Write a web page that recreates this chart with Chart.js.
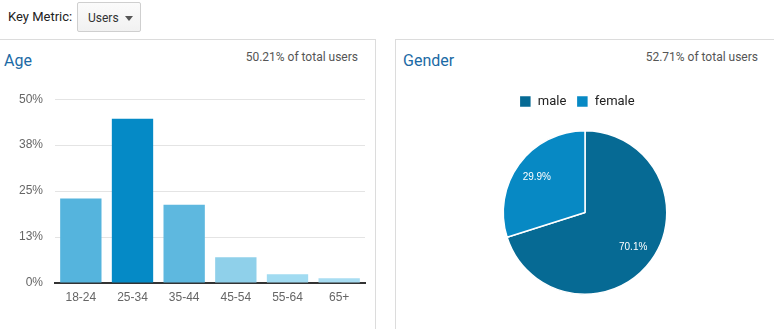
<!DOCTYPE html>
<html>
<head>
<meta charset="utf-8">
<script src="https://cdn.jsdelivr.net/npm/chart.js@4/dist/chart.umd.min.js"></script>
<style>
  html, body { margin: 0; padding: 0; background: #fff; }
  body { width: 774px; height: 329px; position: relative; overflow: hidden; font-family: Roboto, Arial, sans-serif; }
  .metric { position: absolute; left: 8px; top: 9px; font-size: 13px; color: #222; }
  .select { position: absolute; left: 77px; top: 2px; width: 64px; height: 30px; box-sizing: border-box;
    border: 1px solid #cfcfcf; border-radius: 2px; background: linear-gradient(#fbfbfb, #f1f1f1);
    font-size: 12px; color: #333; }
  .select span { position: absolute; left: 10px; top: 8px; }
  .select i { position: absolute; left: 47px; top: 13px; width: 0; height: 0;
    border-left: 4px solid transparent; border-right: 4px solid transparent; border-top: 5px solid #555; }
  .panel { position: absolute; top: 39px; height: 300px; box-sizing: border-box; border-top: 1px solid #dcdcdc; }
  #p-age { left: 0; width: 376px; border-right: 1px solid #dcdcdc; }
  #p-gender { left: 395px; width: 379px; border-left: 1px solid #dcdcdc; }
  .titulo { position: absolute; top: 11px; font-size: 16px; color: #1b6aa5; }
  .info { position: absolute; top: 10px; font-size: 12px; color: #555; }
  canvas { position: absolute; }
</style>
</head>
<body>
<div class="metric">Key Metric:</div>
<div class="select"><span>Users</span><i></i></div>

<div class="panel" id="p-age">
  <div class="titulo" style="left:4px">Age</div>
  <div class="info" style="right:17px">50.21% of total users</div>
</div>
<div class="panel" id="p-gender">
  <div class="titulo" style="left:7px">Gender</div>
  <div class="info" style="right:16px">52.71% of total users</div>
</div>

<canvas id="chart-idade" style="left:0;top:80px" width="372" height="236"></canvas>
<canvas id="chart-genero" style="left:396px;top:80px" width="378" height="217"></canvas>

<script>
// faixas etárias (% dos usuários)
const faixas = ["18-24", "25-34", "35-44", "45-54", "55-64", "65+"];
const pctFaixa = [23.0, 44.7, 21.3, 7.0, 2.4, 1.3];
const corFaixa = ["#55b4dd", "#058ac6", "#5eb8df", "#8fd0ea", "#a1dbf1", "#a8ddf2"];
const ticksIdade = [0, 12.5, 25, 37.5, 50];

// gênero
const generos = ["male", "female"];
const pctGenero = [70.1, 29.9];
const corGenero = ["#066a94", "#0789c4"];

new Chart(document.getElementById("chart-idade"), {
  type: "bar",
  data: { labels: faixas, datasets: [{ data: pctFaixa, backgroundColor: corFaixa,
    categoryPercentage: 0.8, barPercentage: 1 }] },
  options: {
    responsive: false, animation: false,
    layout: { padding: { top: 4, right: 7, bottom: 0, left: 0 } },
    plugins: { legend: { display: false }, tooltip: { enabled: false } },
    scales: {
      x: {
        grid: { display: false, drawTicks: false },
        border: { color: "#333", width: 2 },
        ticks: { color: "#666", padding: 7, font: { family: "Arial", size: 12 } },
        afterFit: (s) => { s.height = 33; },
      },
      y: {
        min: 0, max: 50,
        afterBuildTicks: (s) => { s.ticks = ticksIdade.map((v) => ({ value: v })); },
        grid: { color: "#e4e4e4", drawTicks: false },
        border: { display: false },
        ticks: { color: "#666", padding: 12, font: { family: "Arial", size: 12 },
          callback: (v) => Math.round(v) + "%" },
        afterFit: (s) => { s.width = 55; },
      },
    },
  },
});

// rótulos de % dentro das fatias
const rotulosFatia = {
  id: "rotulosFatia",
  afterDatasetsDraw(chart) {
    const { ctx } = chart;
    const meta = chart.getDatasetMeta(0);
    ctx.save();
    ctx.fillStyle = "#fff";
    ctx.font = "10px Arial";
    ctx.textAlign = "center";
    ctx.textBaseline = "middle";
    meta.data.forEach((arc, i) => {
      const meio = (arc.startAngle + arc.endAngle) / 2;
      const r = arc.outerRadius * 0.73;
      ctx.fillText(pctGenero[i].toFixed(1) + "%", arc.x + Math.cos(meio) * r, arc.y + Math.sin(meio) * r);
    });
    ctx.restore();
  },
};

// espaço extra entre a legenda e a pizza; legenda um pouco à esquerda
const folgaLegenda = {
  id: "folgaLegenda",
  beforeLayout(chart) {
    const lg = chart.legend;
    if (!lg || lg._folga) return;
    const fit = lg.fit;
    lg.fit = function () { fit.call(this); this.height += 12; };
    lg._folga = true;
  },
  afterLayout(chart) {
    const lg = chart.legend;
    if (!lg) return;
    lg.left -= 8;
    lg.right -= 8;
  },
};

new Chart(document.getElementById("chart-genero"), {
  type: "pie",
  data: { labels: generos, datasets: [{ data: pctGenero, backgroundColor: corGenero,
    borderColor: "#fff", borderWidth: 1.5 }] },
  options: {
    responsive: false, animation: false,
    layout: { padding: { top: 5, bottom: 2 } },
    plugins: {
      tooltip: { enabled: false },
      legend: { position: "top",
        labels: { boxWidth: 12, boxHeight: 12, padding: 10, color: "#222",
          font: { family: "Roboto", size: 13 } } },
    },
  },
  plugins: [folgaLegenda, rotulosFatia],
});
</script>
</body>
</html>
